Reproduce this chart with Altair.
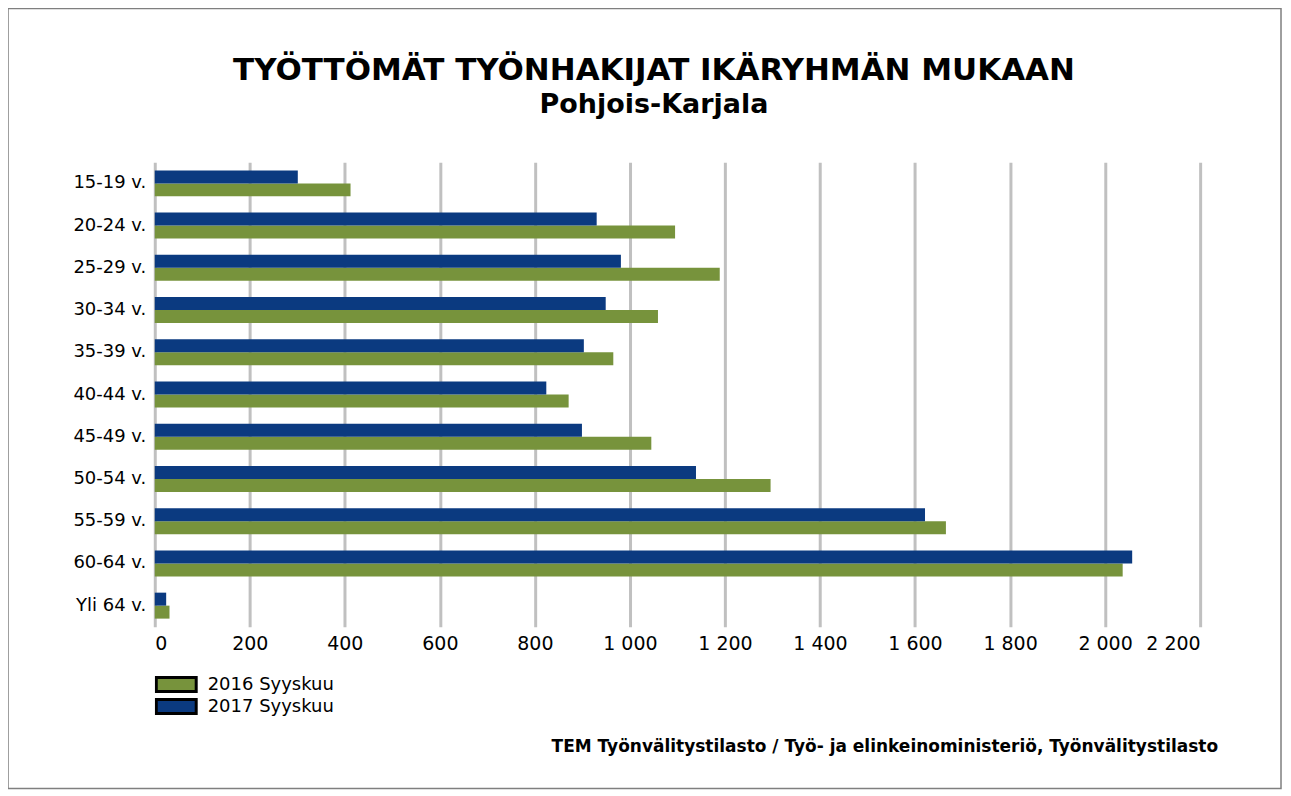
import altair as alt
import pandas as pd

ages = ["15-19 v.", "20-24 v.", "25-29 v.", "30-34 v.", "35-39 v.", "40-44 v.",
        "45-49 v.", "50-54 v.", "55-59 v.", "60-64 v.", "Yli 64 v."]
v2016 = [412, 1095, 1189, 1059, 965, 871, 1045, 1296, 1665, 2037, 31]
v2017 = [301, 930, 981, 949, 903, 824, 899, 1139, 1621, 2057, 24]
series = ["2016 Syyskuu", "2017 Syyskuu"]
colors = ["#77933C", "#0B3A80"]
xticks = [0, 200, 400, 600, 800, 1000, 1200, 1400, 1600, 1800, 2000, 2200]
title = "TYÖTTÖMÄT TYÖNHAKIJAT IKÄRYHMÄN MUKAAN"
subtitle = "Pohjois-Karjala"
source = "TEM Työnvälitystilasto / Työ- ja elinkeinoministeriö, Työnvälitystilasto"

rows = []
for a, x16, x17 in zip(ages, v2016, v2017):
    rows.append({"age": a, "series": series[0], "value": x16})
    rows.append({"age": a, "series": series[1], "value": x17})
df = pd.DataFrame(rows)

W, H = 1047, 465
FONT = "DejaVu Sans"

bars = alt.Chart(df).mark_bar().encode(
    y=alt.Y("age:N", sort=ages, title=None,
            scale=alt.Scale(paddingInner=0.385, paddingOuter=0.19),
            axis=alt.Axis(ticks=False, domain=False, grid=False, labelPadding=9,
                          labelFont=FONT, labelFontSize=18, labelColor="#000000")),
    yOffset=alt.YOffset("series:N", sort=[series[1], series[0]]),
    x=alt.X("value:Q", title=None,
            scale=alt.Scale(domain=[0, 2200], nice=False),
            axis=alt.Axis(values=xticks, grid=True, gridColor="#c0c0c0", gridWidth=3,
                          ticks=False, domain=False, labelPadding=8,
                          labelFont=FONT, labelFontSize=19, labelColor="#000000",
                          labelExpr="replace(format(datum.value, ','), ',', ' ')")),
    color=alt.Color("series:N", scale=alt.Scale(domain=series, range=colors),
                    legend=alt.Legend(title=None, orient="none", legendX=0, legendY=512,
                                      symbolType="M-1,-0.35H1V0.35H-1Z", symbolSize=1600,
                                      symbolStrokeColor="#000000", symbolStrokeWidth=3,
                                      symbolOpacity=1, clipHeight=22, rowPadding=0,
                                      labelOffset=10, labelFont=FONT, labelFontSize=18,
                                      labelColor="#000000", padding=0)),
)

texts = pd.DataFrame({"t": [title, subtitle, source]})

title_mark = alt.Chart(texts).transform_filter(alt.datum.t == title).mark_text(
    align="center", baseline="alphabetic", font=FONT, fontSize=31, fontWeight="bold",
    color="#000000"
).encode(text="t:N", x=alt.value(500), y=alt.value(-83))

sub_mark = alt.Chart(texts).transform_filter(alt.datum.t == subtitle).mark_text(
    align="center", baseline="alphabetic", font=FONT, fontSize=27, fontWeight="bold",
    color="#000000"
).encode(text="t:N", x=alt.value(500), y=alt.value(-49))

src = alt.Chart(texts).transform_filter(alt.datum.t == source).mark_text(
    align="right", baseline="alphabetic", font=FONT, fontSize=17, fontWeight="bold",
    color="#000000"
).encode(text="t:N", x=alt.value(1065), y=alt.value(591))

frame = alt.Chart(pd.DataFrame({"f": [0]})).mark_rect(
    fillOpacity=0, stroke="#7f7f7f", strokeWidth=1.5
).encode(x=alt.value(-147), x2=alt.value(1128), y=alt.value(-154), y2=alt.value(627))

chart = alt.layer(bars, title_mark, sub_mark, src, frame).properties(
    width=W, height=H,
    background="#ffffff",
    autosize=alt.AutoSizeParams(type="none"),
    padding={"left": 147, "top": 154, "right": 83, "bottom": 165},
).configure_view(stroke="transparent", strokeWidth=0)

chart.save("out.html", embed_options={"renderer": "svg", "actions": False})
